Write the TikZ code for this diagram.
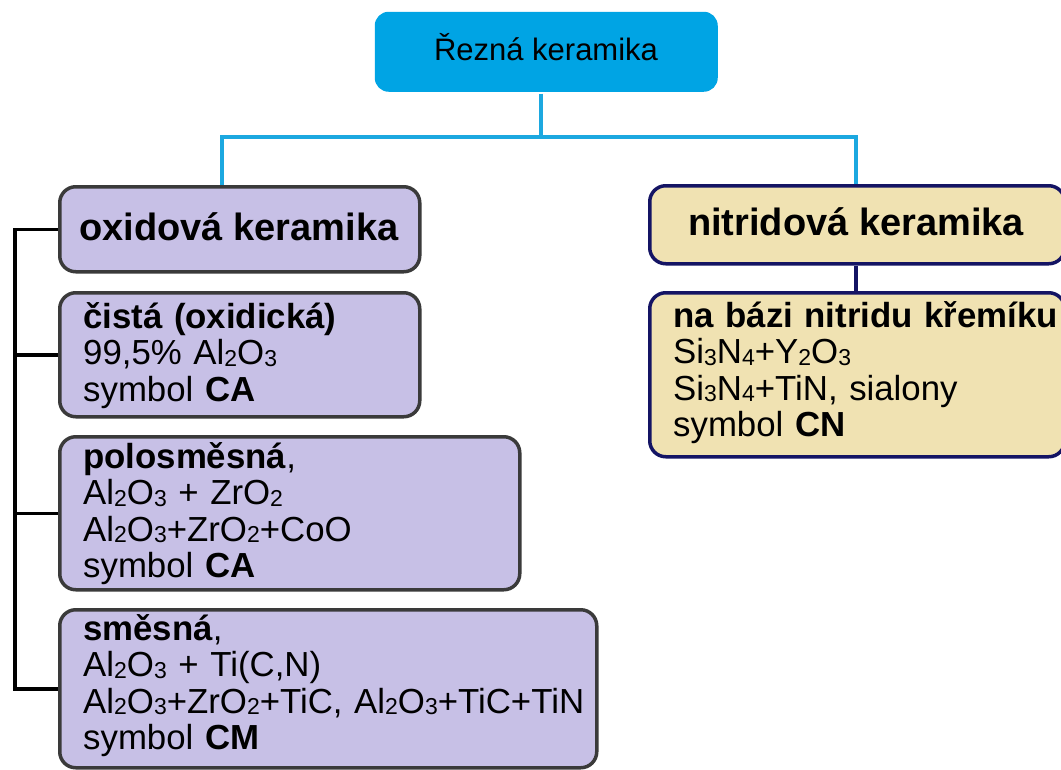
\documentclass[tikz,border=0pt]{standalone}
\usepackage{fontspec}
\setmainfont{Liberation Sans}
\definecolor{topblue}{RGB}{0,164,228}
\definecolor{lineblue}{RGB}{28,168,224}
\definecolor{lav}{RGB}{199,192,230}
\definecolor{lavedge}{RGB}{58,58,58}
\definecolor{beige}{RGB}{240,226,178}
\definecolor{navy}{RGB}{20,20,100}
\newcommand\sbx[1]{\raisebox{-1.5pt}{\fontsize{23}{23}\selectfont #1}}
\begin{document}
\begin{tikzpicture}[x=1pt,y=-1pt,
  boxbase/.style={rounded corners=16pt, line width=3.5pt, anchor=north west, inner sep=0pt},
  oxbox/.style={boxbase, draw=lavedge, fill=lav},
  nibox/.style={boxbase, draw=navy, fill=beige},
  ctext/.style={anchor=north west, inner sep=0pt, align=left, text width=560pt,
    font=\fontsize{34.8}{36.5}\selectfont},
  htext/.style={anchor=base, inner sep=0pt, font=\fontsize{38}{40}\selectfont\bfseries},
  bluecon/.style={draw=lineblue, line width=3.5pt},
  blackcon/.style={draw=black, line width=3.5pt},
  navycon/.style={draw=navy, line width=3.5pt}]
\useasboundingbox (0,0) rectangle (1061,769);
\fill[white] (0,0) rectangle (1061,769);

% top
\node[boxbase, fill=topblue, rounded corners=14pt, minimum width=343pt, minimum height=80pt] (top) at (373,10) {};
\node[anchor=base, inner sep=0pt, font=\fontsize{31}{34}\selectfont] (topT) at (546,60) {Řezná keramika};

% left column
\node[oxbox, minimum width=360pt, minimum height=85pt] (oxid) at (58,185) {};
\node[htext] (oxidT) at (239,240) {oxidová keramika};

\node[oxbox, minimum width=360pt, minimum height=124pt] (cista) at (58,291) {};
\node[ctext] (cistaT) at (83,300) {\rule{0pt}{28pt}\textbf{čistá (oxidická)}\\
99,5\% Al\sbx{2}O\sbx{3}\\
symbol \textbf{CA}};

\node[oxbox, minimum width=460pt, minimum height=153pt] (polosm) at (58,435) {};
\node[ctext] (polosmT) at (83,440) {\rule{0pt}{28pt}\textbf{polosměsná},\\
Al\sbx{2}O\sbx{3} + ZrO\sbx{2}\\
Al\sbx{2}O\sbx{3}+ZrO\sbx{2}+CoO\\
symbol \textbf{CA}};

\node[oxbox, minimum width=537pt, minimum height=158pt] (smesna) at (58,608) {};
\node[ctext] (smesnaT) at (83,612) {\rule{0pt}{28pt}\textbf{směsná},\\
Al\sbx{2}O\sbx{3} + Ti(C,N)\\
Al\sbx{2}O\sbx{3}+ZrO\sbx{2}+TiC, Al\sbx{2}O\sbx{3}+TiC+TiN\\
symbol \textbf{CM}};

% right column
\node[nibox, minimum width=415pt, minimum height=78pt] (nitrid) at (648,184) {};
\node[htext] (nitridT) at (856,235) {nitridová keramika};

\node[nibox, minimum width=415pt, minimum height=164pt] (nabazi) at (648,291) {};
\node[ctext] (nabaziT) at (673,299) {\rule{0pt}{28pt}\textbf{na bázi nitridu křemíku}\\
Si\sbx{3}N\sbx{4}+Y\sbx{2}O\sbx{3}\\
Si\sbx{3}N\sbx{4}+TiN, sialony\\
symbol \textbf{CN}};

% blue connectors
\coordinate (j) at (541,137);
\coordinate (jl) at (222,137);
\coordinate (jr) at (856,137);
\draw[bluecon] (top.south -| j) -- (j);
\draw[bluecon] (jl |- oxid.north) -- (jl) -- (jr) -- (jr |- nitrid.north);

% navy connector
\draw[navycon] (nitrid.south -| jr) -- (nabazi.north -| jr);

% black bracket
\coordinate (bar) at (15,0);
\draw[blackcon] (oxid.west) -- (oxid.west -| bar) -- (smesna.west -| bar) -- (smesna.west);
\draw[blackcon] (cista.west) -- (cista.west -| bar);
\draw[blackcon] (polosm.west) -- (polosm.west -| bar);
\end{tikzpicture}
\end{document}
